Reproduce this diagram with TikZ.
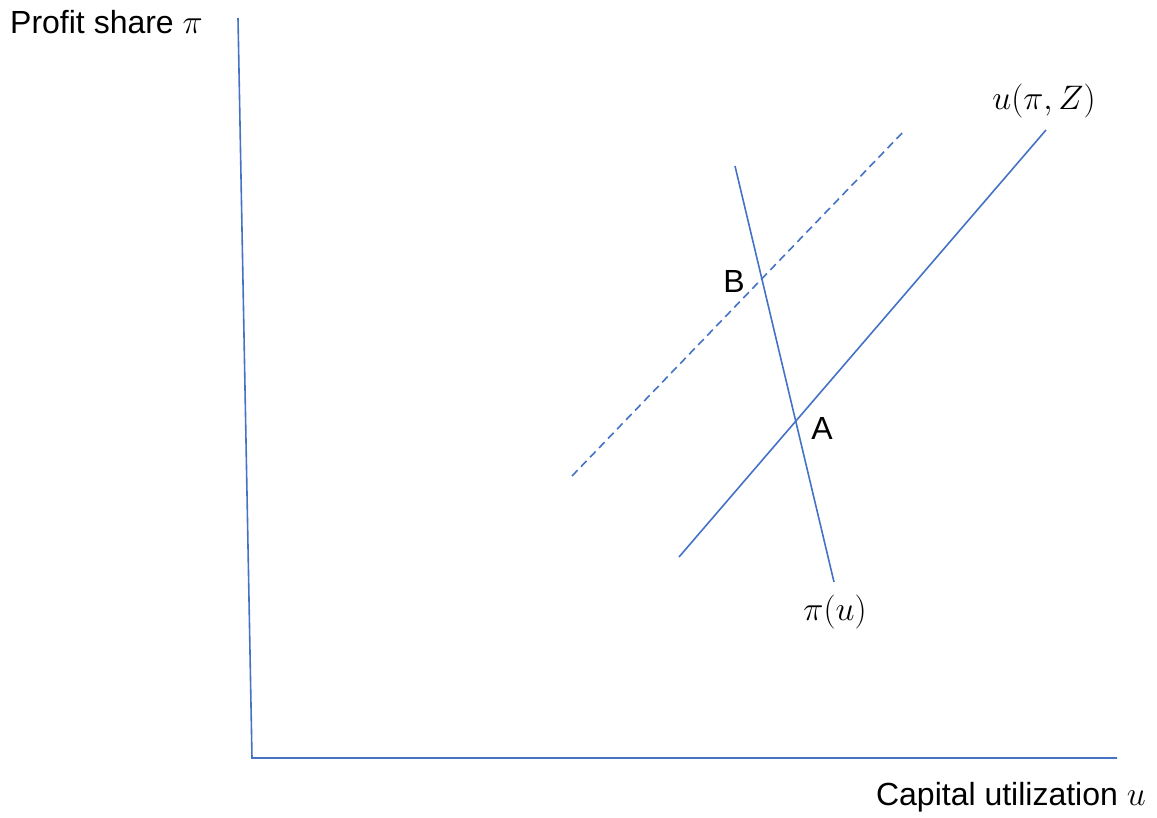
\RequirePackage{fix-cm}
\documentclass[tikz,border=0pt]{standalone}
\usepackage{fontspec}
\setmainfont{Liberation Sans}
\definecolor{lineblue}{HTML}{4472C4}
\newcommand{\mylbmath}[1]{{\fontsize{34}{40}\selectfont$#1$}}
\begin{document}
\begin{tikzpicture}[x=1pt,y=-1pt,
  curve/.style={draw=lineblue,line width=1.6pt},
  lbl/.style={inner sep=0pt,font=\fontsize{32}{38}\selectfont}]
\useasboundingbox (0,0) rectangle (1157,817);
% axes
\coordinate (ytop) at (238,18);
\coordinate (origin) at (252,758);
\coordinate (xend) at (1117,758);
\draw[curve] (ytop) -- (origin) -- (xend);
% curves
\coordinate (s1) at (679,557);
\coordinate (s2) at (1046,130);
\draw[curve] (s1) -- (s2);
\coordinate (d1) at (572,476);
\coordinate (d2) at (905,130);
\draw[curve,dash pattern=on 8pt off 5pt] (d1) -- (d2);
\coordinate (p1) at (735,166);
\coordinate (p2) at (834,582);
\draw[curve] (p1) -- (p2);
% labels
\node[lbl,anchor=west] (ylab) at (10,22) {Profit share \mylbmath{\pi}};
\node[lbl,anchor=east] (xlab) at (1146,797) {Capital utilization \mylbmath{u}};
\node[lbl] (ulab) at (1044,101) {\mylbmath{u(\pi,Z)}};
\node[lbl] (plab) at (835,612) {\mylbmath{\pi(u)}};
\node[lbl] (B) at (734,281) {B};
\node[lbl] (A) at (822,428) {A};
\end{tikzpicture}
\end{document}
